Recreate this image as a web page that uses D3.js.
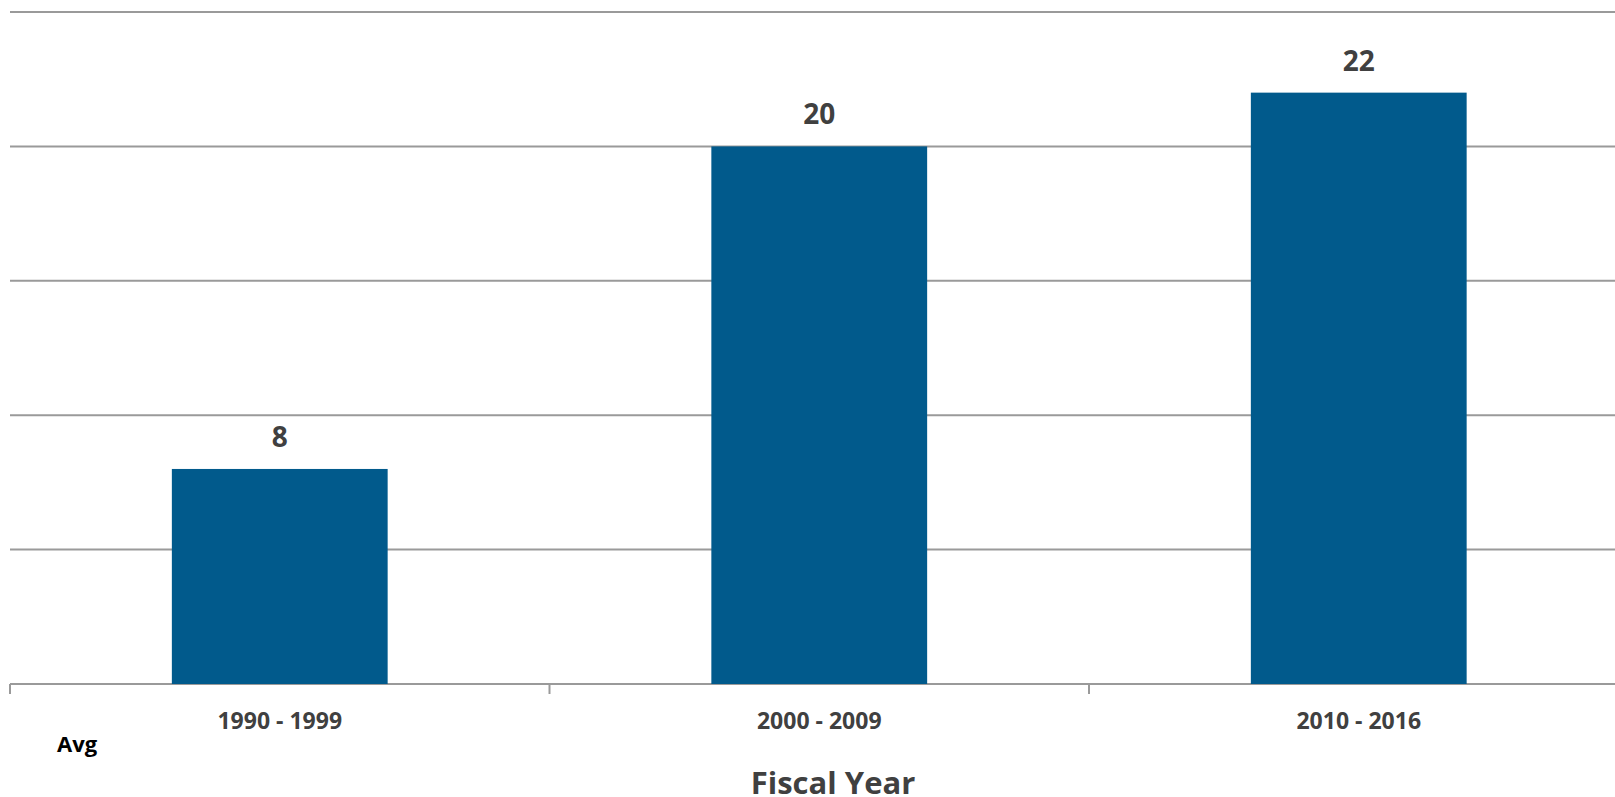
<!DOCTYPE html>
<html>
<head>
<meta charset="utf-8">
<script src="https://cdn.jsdelivr.net/npm/d3@7"></script>
<style>
  body { margin: 0; background: #fff; }
  svg { display: block; font-family: "Open Sans", sans-serif; }
</style>
</head>
<body>
<script>
// data
var categories = ['1990 - 1999', '2000 - 2009', '2010 - 2016'],
    values     = [8, 20, 22],
    yTicks     = [0, 5, 10, 15, 20, 25];

// init
var width      = 1615,
    height     = 797,
    plotLeft   = 10,
    plotTop    = 12,
    plotBottom = 684;

// scale for x-axis
var xScale = d3.scaleBand()
    .domain(categories)
    .range([plotLeft, 1628.5])
    .paddingInner(0.6)
    .paddingOuter(0.3);

// scale for y-axis
var yScale = d3.scaleLinear().domain([0, 25]).range([plotBottom, plotTop]);

// create svg
var svg = d3.select('body')
    .append('svg')
    .attr('width', width)
    .attr('height', height);

// gridlines
svg.append('g')
    .selectAll('line')
    .data(yTicks)
    .enter()
    .append('line')
    .attr('x1', plotLeft)
    .attr('x2', width)
    .attr('y1', function(d) { return yScale(d); })
    .attr('y2', function(d) { return yScale(d); })
    .attr('stroke', '#9a9a9a')
    .attr('stroke-width', 2);

// bars
svg.append('g')
    .selectAll('rect')
    .data(values)
    .enter()
    .append('rect')
    .attr('x', function(d, i) { return xScale(categories[i]); })
    .attr('y', function(d) { return yScale(d); })
    .attr('width', xScale.bandwidth())
    .attr('height', function(d) { return plotBottom - yScale(d); })
    .attr('fill', '#015a8c');

// value labels
svg.append('g')
    .selectAll('text')
    .data(values)
    .enter()
    .append('text')
    .attr('x', function(d, i) { return xScale(categories[i]) + xScale.bandwidth() / 2; })
    .attr('y', function(d) { return yScale(d) - 22; })
    .attr('text-anchor', 'middle')
    .attr('font-size', 28)
    .attr('font-weight', 'bold')
    .attr('fill', '#404040')
    .text(function(d) { return d; });

// x axis
var xAxis = svg.append('g')
    .attr('transform', 'translate(0,' + plotBottom + ')')
    .call(d3.axisBottom(xScale).tickSize(0).tickPadding(0));
xAxis.select('.domain').remove();
xAxis.selectAll('text')
    .attr('y', 45)
    .attr('dy', null)
    .attr('font-size', 23)
    .attr('font-weight', 'bold')
    .attr('font-family', '"Open Sans", sans-serif')
    .attr('fill', '#404040');

// tick marks between categories
xAxis.selectAll('.sep')
    .data(categories)
    .enter()
    .append('line')
    .attr('class', 'sep')
    .attr('x1', function(d) { return xScale(d) - xScale.step() * xScale.paddingInner() / 2; })
    .attr('x2', function(d) { return xScale(d) - xScale.step() * xScale.paddingInner() / 2; })
    .attr('y1', 0)
    .attr('y2', 10)
    .attr('stroke', '#9a9a9a')
    .attr('stroke-width', 2);

// labels
svg.append('text')
    .attr('x', 57)
    .attr('y', 752)
    .attr('font-size', 22)
    .attr('font-weight', 'bold')
    .attr('fill', '#000')
    .text('Avg');

svg.append('text')
    .attr('x', 833)
    .attr('y', 794)
    .attr('text-anchor', 'middle')
    .attr('font-size', 31)
    .attr('font-weight', 'bold')
    .attr('fill', '#404040')
    .text('Fiscal Year');
</script>
</body>
</html>
